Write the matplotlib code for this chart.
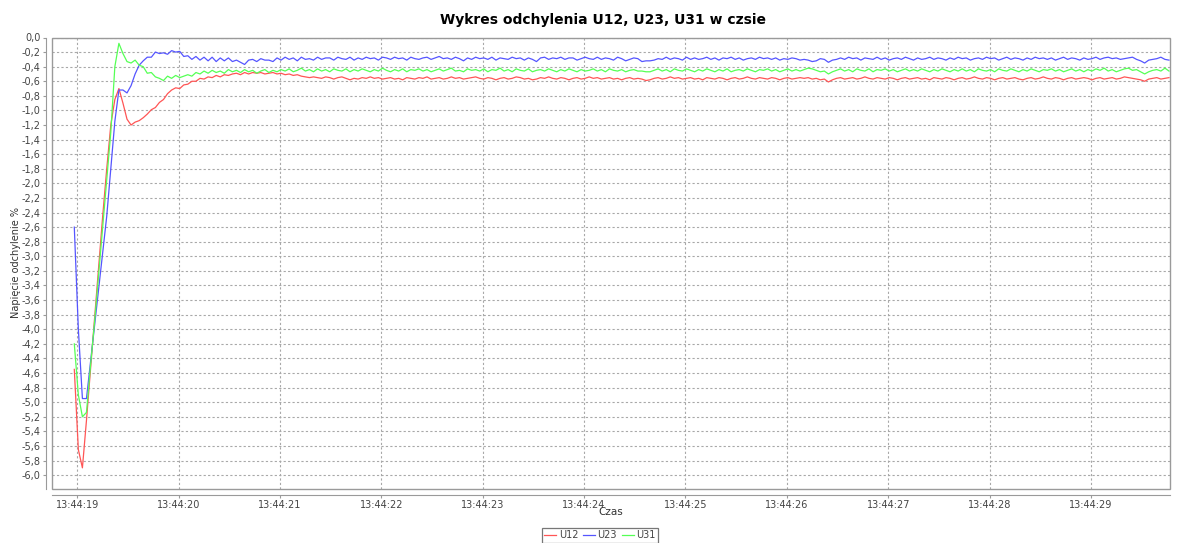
import numpy as np
import matplotlib
matplotlib.use("Agg")
import matplotlib.pyplot as plt
from matplotlib.patches import Rectangle
from matplotlib.transforms import offset_copy

# sampling: first sample at 13:44:18.97, one sample every 0.04 s
start_sec = 18.97
step_sec = 0.04

u12 = [-4.55, -5.65, -5.90, -5.25, -4.55, -3.85, -3.15, -2.45, -1.80, -1.20,
       -0.85, -0.70, -0.90, -1.12, -1.20, -1.16, -1.14, -1.10, -1.05, -0.99,
       -0.96, -0.89, -0.85, -0.77, -0.72, -0.69, -0.70, -0.65, -0.64, -0.60,
       -0.60, -0.56, -0.57, -0.54, -0.55, -0.52, -0.54, -0.51, -0.52, -0.50,
       -0.49, -0.51, -0.48, -0.50, -0.48, -0.49, -0.48, -0.50, -0.49, -0.48,
       -0.50, -0.49, -0.51, -0.50, -0.52, -0.51, -0.53, -0.54, -0.55, -0.54,
       -0.55, -0.56, -0.54, -0.55, -0.57, -0.55, -0.54, -0.56, -0.58, -0.56,
       -0.57, -0.55, -0.56, -0.54, -0.56, -0.55, -0.57, -0.56, -0.55, -0.57,
       -0.56, -0.58, -0.55, -0.56, -0.57, -0.55, -0.56, -0.54, -0.57, -0.56,
       -0.55, -0.57, -0.56, -0.54, -0.56, -0.55, -0.57, -0.56, -0.55, -0.54,
       -0.56, -0.57, -0.55, -0.56, -0.58, -0.56, -0.55, -0.57, -0.56, -0.54,
       -0.55, -0.57, -0.56, -0.58, -0.57, -0.55, -0.56, -0.54, -0.56, -0.57,
       -0.55, -0.56, -0.58, -0.56, -0.55, -0.57, -0.56, -0.54, -0.56, -0.55,
       -0.57, -0.56, -0.55, -0.57, -0.56, -0.58, -0.56, -0.55, -0.57, -0.56,
       -0.57, -0.59, -0.58, -0.56, -0.55, -0.57, -0.56, -0.54, -0.56, -0.55,
       -0.57, -0.56, -0.55, -0.57, -0.56, -0.58, -0.55, -0.56, -0.57, -0.55,
       -0.56, -0.58, -0.56, -0.55, -0.57, -0.56, -0.54, -0.56, -0.57, -0.55,
       -0.56, -0.57, -0.55, -0.56, -0.58, -0.56, -0.55, -0.57, -0.56, -0.55,
       -0.56, -0.55, -0.57, -0.56, -0.58, -0.57, -0.61, -0.58, -0.56, -0.55,
       -0.57, -0.56, -0.55, -0.57, -0.56, -0.54, -0.56, -0.57, -0.55, -0.56,
       -0.57, -0.55, -0.56, -0.58, -0.56, -0.55, -0.57, -0.56, -0.55, -0.57,
       -0.56, -0.58, -0.55, -0.56, -0.57, -0.55, -0.56, -0.58, -0.56, -0.55,
       -0.57, -0.56, -0.54, -0.56, -0.57, -0.55, -0.56, -0.58, -0.56, -0.55,
       -0.57, -0.56, -0.55, -0.57, -0.58, -0.56, -0.55, -0.57, -0.56, -0.54,
       -0.56, -0.57, -0.55, -0.56, -0.58, -0.56, -0.55, -0.57, -0.56, -0.55,
       -0.56, -0.58, -0.56, -0.55, -0.57, -0.56, -0.55, -0.57, -0.56, -0.54,
       -0.55, -0.56, -0.57, -0.58, -0.60, -0.57, -0.56, -0.55, -0.57, -0.56,
       -0.55]

u23 = [-2.60, -4.00, -4.95, -4.95, -4.45, -3.95, -3.45, -2.95, -2.45, -1.80,
       -1.15, -0.72, -0.72, -0.76, -0.66, -0.50, -0.38, -0.32, -0.27, -0.27,
       -0.20, -0.22, -0.21, -0.23, -0.18, -0.20, -0.19, -0.26, -0.25, -0.30,
       -0.26, -0.31, -0.27, -0.32, -0.27, -0.33, -0.28, -0.32, -0.28, -0.33,
       -0.31, -0.34, -0.37, -0.31, -0.30, -0.33, -0.29, -0.31, -0.31, -0.33,
       -0.28, -0.31, -0.27, -0.30, -0.28, -0.32, -0.27, -0.30, -0.29, -0.31,
       -0.27, -0.30, -0.28, -0.28, -0.31, -0.27, -0.29, -0.30, -0.27, -0.31,
       -0.28, -0.30, -0.27, -0.29, -0.28, -0.31, -0.27, -0.28, -0.30, -0.27,
       -0.29, -0.28, -0.31, -0.27, -0.29, -0.30, -0.28, -0.27, -0.30, -0.28,
       -0.26, -0.29, -0.28, -0.30, -0.27, -0.29, -0.32, -0.28, -0.30, -0.27,
       -0.29, -0.28, -0.30, -0.27, -0.31, -0.28, -0.29, -0.30, -0.27, -0.29,
       -0.28, -0.31, -0.28, -0.30, -0.33, -0.28, -0.27, -0.30, -0.28, -0.29,
       -0.27, -0.30, -0.28, -0.28, -0.31, -0.29, -0.27, -0.29, -0.30, -0.27,
       -0.30, -0.28, -0.29, -0.31, -0.27, -0.29, -0.32, -0.30, -0.28, -0.29,
       -0.33, -0.32, -0.32, -0.31, -0.29, -0.30, -0.27, -0.30, -0.28, -0.29,
       -0.31, -0.27, -0.30, -0.28, -0.30, -0.29, -0.27, -0.30, -0.28, -0.31,
       -0.28, -0.29, -0.27, -0.30, -0.28, -0.31, -0.29, -0.28, -0.30, -0.27,
       -0.29, -0.28, -0.30, -0.28, -0.31, -0.29, -0.30, -0.28, -0.29, -0.31,
       -0.30, -0.31, -0.33, -0.32, -0.29, -0.30, -0.34, -0.31, -0.30, -0.28,
       -0.30, -0.27, -0.29, -0.28, -0.31, -0.28, -0.29, -0.30, -0.27, -0.30,
       -0.28, -0.31, -0.29, -0.28, -0.30, -0.27, -0.29, -0.31, -0.28, -0.30,
       -0.29, -0.27, -0.30, -0.28, -0.29, -0.31, -0.28, -0.30, -0.27, -0.29,
       -0.28, -0.31, -0.29, -0.28, -0.30, -0.27, -0.29, -0.28, -0.31, -0.29,
       -0.27, -0.30, -0.28, -0.29, -0.31, -0.28, -0.30, -0.27, -0.29, -0.28,
       -0.30, -0.28, -0.31, -0.29, -0.27, -0.30, -0.28, -0.29, -0.31, -0.28,
       -0.30, -0.29, -0.27, -0.30, -0.28, -0.27, -0.29, -0.28, -0.30, -0.29,
       -0.28, -0.27, -0.30, -0.32, -0.35, -0.31, -0.30, -0.29, -0.27, -0.30,
       -0.31]

u31 = [-4.20, -4.90, -5.20, -5.14, -4.50, -3.90, -3.25, -2.60, -1.95, -1.30,
       -0.40, -0.08, -0.22, -0.33, -0.35, -0.31, -0.38, -0.40, -0.49, -0.48,
       -0.54, -0.56, -0.59, -0.53, -0.56, -0.52, -0.55, -0.53, -0.51, -0.53,
       -0.48, -0.50, -0.46, -0.49, -0.45, -0.48, -0.46, -0.49, -0.44, -0.47,
       -0.45, -0.48, -0.44, -0.47, -0.45, -0.49, -0.46, -0.44, -0.48, -0.45,
       -0.47, -0.44, -0.46, -0.43, -0.47, -0.45, -0.42, -0.46, -0.44, -0.47,
       -0.43, -0.46, -0.44, -0.47, -0.43, -0.45, -0.46, -0.43, -0.47, -0.44,
       -0.46, -0.43, -0.45, -0.47, -0.44, -0.46, -0.42, -0.45, -0.47, -0.44,
       -0.46, -0.43, -0.47, -0.44, -0.45, -0.43, -0.46, -0.44, -0.47, -0.45,
       -0.43, -0.46, -0.44, -0.42, -0.46, -0.45, -0.47, -0.43, -0.45, -0.44,
       -0.46, -0.43, -0.47, -0.44, -0.45, -0.42, -0.46, -0.44, -0.47, -0.43,
       -0.45, -0.46, -0.43, -0.47, -0.45, -0.44, -0.46, -0.43, -0.45, -0.47,
       -0.44, -0.46, -0.43, -0.45, -0.47, -0.44, -0.46, -0.45, -0.43, -0.46,
       -0.44, -0.47, -0.43, -0.45, -0.46, -0.44, -0.47, -0.45, -0.44, -0.46,
       -0.46, -0.47, -0.47, -0.45, -0.43, -0.46, -0.44, -0.47, -0.43, -0.45,
       -0.46, -0.43, -0.45, -0.47, -0.44, -0.46, -0.43, -0.45, -0.47, -0.44,
       -0.46, -0.43, -0.47, -0.45, -0.44, -0.46, -0.43, -0.45, -0.47, -0.44,
       -0.45, -0.43, -0.46, -0.44, -0.47, -0.45, -0.43, -0.46, -0.44, -0.46,
       -0.44, -0.42, -0.43, -0.45, -0.47, -0.46, -0.50, -0.47, -0.45, -0.43,
       -0.46, -0.44, -0.47, -0.43, -0.45, -0.46, -0.43, -0.47, -0.44, -0.45,
       -0.43, -0.46, -0.44, -0.47, -0.45, -0.43, -0.46, -0.44, -0.46, -0.43,
       -0.45, -0.47, -0.44, -0.46, -0.43, -0.45, -0.47, -0.44, -0.46, -0.43,
       -0.46, -0.44, -0.47, -0.43, -0.45, -0.46, -0.44, -0.47, -0.43, -0.45,
       -0.46, -0.43, -0.45, -0.47, -0.44, -0.46, -0.43, -0.45, -0.47, -0.44,
       -0.45, -0.43, -0.46, -0.44, -0.47, -0.45, -0.43, -0.46, -0.44, -0.47,
       -0.44, -0.46, -0.43, -0.45, -0.42, -0.46, -0.44, -0.47, -0.45, -0.43,
       -0.42, -0.45, -0.44, -0.47, -0.50, -0.47, -0.45, -0.44, -0.46, -0.42,
       -0.46]

series_names = ["U12", "U23", "U31"]
series_colors = ["#ff5555", "#5555ff", "#55ff55"]

tick_secs = [19, 20, 21, 22, 23, 24, 25, 26, 27, 28, 29]
tick_labels = ["13:44:%02d" % s for s in tick_secs]

times = start_sec + step_sec * np.arange(len(u12))

fig = plt.figure(figsize=(11.79, 5.43), dpi=100)
ax = fig.add_axes([52 / 1179, 1 - 489 / 543, 1118 / 1179, 451.5 / 543])

for vals, name, col in zip([u12, u23, u31], series_names, series_colors):
    ax.plot(times, vals, color=col, lw=0.9, label=name)

ax.set_xlim(18.75, 29.78)
ax.set_ylim(-6.19, 0.0)

yt = np.arange(0, 31) * -0.2
ax.set_yticks(yt)
ax.set_yticklabels([("%.1f" % v).replace(".", ",").replace("-0,0", "0,0") for v in yt])
ax.set_xticks(tick_secs)
ax.set_xticklabels(tick_labels)

ax.grid(True, color="#a8a8a8", linestyle=(0, (2, 2)), lw=0.8)
ax.set_axisbelow(True)

# JFreeChart style: outline box plus axis lines pushed out a bit
for s in ["top", "right"]:
    ax.spines[s].set_visible(False)
for s in ["left", "bottom"]:
    ax.spines[s].set_position(("outward", 4))
    ax.spines[s].set_color("#9a9a9a")
ax.add_patch(Rectangle((0, 0), 1, 1, transform=ax.transAxes, fill=False,
                       edgecolor="#9a9a9a", lw=1, clip_on=False, zorder=5))

ax.tick_params(axis="both", labelsize=7, colors="#9a9a9a", labelcolor="#444444",
               length=2, width=0.8, pad=2)

fig.text(603 / 1179, 1 - 20 / 543, "Wykres odchylenia U12, U23, U31 w czsie",
         ha="center", va="center", fontsize=10, fontweight="bold")
fig.text(611 / 1179, 1 - 512 / 543, "Czas", ha="center", va="center",
         fontsize=7.5, color="#333333")
fig.text(16 / 1179, 1 - 262 / 543, "Napięcie odchylenie %", ha="center",
         va="center", rotation=90, fontsize=7, color="#333333")

leg = fig.legend(loc="upper center", bbox_to_anchor=(600 / 1179, 1 - 528 / 543),
                 ncol=3, fontsize=7, frameon=True, fancybox=False,
                 handlelength=1.2, handletextpad=0.3, columnspacing=0.5,
                 borderpad=0.25, borderaxespad=0)
leg.get_frame().set_edgecolor("#555555")
leg.get_frame().set_linewidth(0.9)
for t in leg.get_texts():
    t.set_color("#444444")

fig.savefig("out.png", dpi=100)
